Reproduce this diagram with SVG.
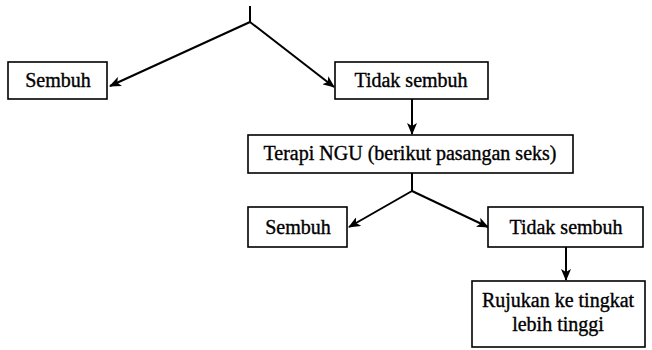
<svg xmlns="http://www.w3.org/2000/svg" width="652" height="350" viewBox="0 0 652 350">
<style>
.box{fill:#fff;stroke:#000;stroke-width:1.6}
.t{font-family:"Liberation Serif","Times New Roman",serif;font-size:20px;fill:#000;stroke:#000;stroke-width:0.35;text-anchor:middle}
.c{fill:none;stroke:#000;stroke-width:2}
</style>
<defs>
<marker id="ah" viewBox="0 0 12 10" refX="11" refY="5" markerWidth="12" markerHeight="10" markerUnits="userSpaceOnUse" orient="auto">
<path d="M0,0 L12,5 L0,10 L3,5 Z" fill="#000"/>
</marker>
</defs>
<rect width="652" height="350" fill="#fff"/>
<g id="connectors">
<path class="c" d="M250,6 L250,22"/>
<path class="c" d="M250,22 L110,86" marker-end="url(#ah)"/>
<path class="c" d="M250,22 L334,87" marker-end="url(#ah)"/>
<path class="c" d="M412,99 L412,134" marker-end="url(#ah)"/>
<path class="c" d="M412,173 L412,191"/>
<path class="c" d="M412,191 L349,227" marker-end="url(#ah)"/>
<path class="c" d="M412,191 L488,227" marker-end="url(#ah)"/>
<path class="c" d="M566,247 L566,280" marker-end="url(#ah)"/>
</g>
<g id="sembuh1">
<rect class="box" x="8" y="62" width="99" height="37"/>
<text class="t" x="58" y="87">Sembuh</text>
</g>
<g id="tidak1">
<rect class="box" x="335" y="62" width="153" height="37"/>
<text class="t" x="411" y="87">Tidak sembuh</text>
</g>
<g id="terapi">
<rect class="box" x="248" y="135" width="325" height="38"/>
<text class="t" x="410" y="160">Terapi NGU (berikut pasangan seks)</text>
</g>
<g id="sembuh2">
<rect class="box" x="248" y="207" width="99" height="40"/>
<text class="t" x="298" y="234">Sembuh</text>
</g>
<g id="tidak2">
<rect class="box" x="488" y="207" width="155" height="40"/>
<text class="t" x="566" y="234">Tidak sembuh</text>
</g>
<g id="rujukan">
<rect class="box" x="472" y="281" width="173" height="66"/>
<text class="t" x="558" y="307">Rujukan ke tingkat</text>
<text class="t" x="558" y="331">lebih tinggi</text>
</g>
</svg>
